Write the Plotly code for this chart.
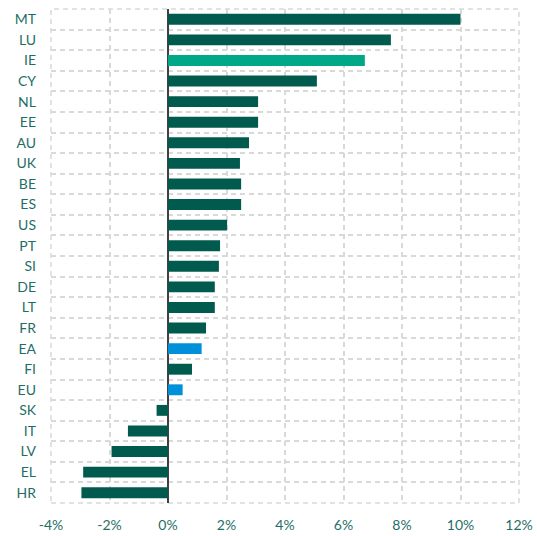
import plotly.graph_objects as go

countries = ["MT", "LU", "IE", "CY", "NL", "EE", "AU", "UK", "BE", "ES", "US", "PT",
             "SI", "DE", "LT", "FR", "EA", "FI", "EU", "SK", "IT", "LV", "EL", "HR"]
values = [10.0, 7.62, 6.73, 5.09, 3.08, 3.08, 2.77, 2.46, 2.5, 2.5, 2.02, 1.78,
          1.74, 1.6, 1.6, 1.3, 1.15, 0.82, 0.5, -0.39, -1.37, -1.93, -2.9, -2.96]
x_ticks = [-4, -2, 0, 2, 4, 6, 8, 10, 12]
x_ticktext = ["-4%", "-2%", "0%", "2%", "4%", "6%", "8%", "10%", "12%"]

DARK = "#005A4E"
colors = []
for c in countries:
    if c == "IE":
        colors.append("#00A887")
    elif c in ("EA", "EU"):
        colors.append("#0090D9")
    else:
        colors.append(DARK)

fig = go.Figure(go.Bar(
    x=values, y=countries, orientation="h",
    marker=dict(color=colors, line=dict(width=0)),
))

TXT = "#1F6E66"
GRID = "#D9D9D9"
DASH = "5px,4px"
fig.update_layout(
    width=537, height=536,
    margin=dict(l=51, r=18, t=9, b=33),
    paper_bgcolor="white", plot_bgcolor="white",
    bargap=0.47,
    showlegend=False,
    font=dict(family="Lato, Open Sans, sans-serif", size=14, color=TXT),
    xaxis=dict(
        range=[-4, 12], tickvals=x_ticks, ticktext=x_ticktext,
        showgrid=True, gridcolor=GRID, gridwidth=1.5, griddash=DASH,
        zeroline=True, zerolinecolor="#404040", zerolinewidth=2,
        showline=False, ticks="", ticklabelstandoff=12, automargin=False,
        tickfont=dict(size=14, color=TXT),
    ),
    yaxis=dict(
        type="category", autorange="reversed",
        tickson="boundaries", automargin=False,
        showgrid=True, gridcolor=GRID, gridwidth=1.5, griddash=DASH,
        showline=False, ticks="", ticklabelstandoff=14,
        tickfont=dict(size=14, color=TXT),
    ),
    shapes=[dict(
        type="rect", xref="x domain", yref="y domain",
        x0=0, x1=1, y0=0, y1=1,
        line=dict(color=GRID, width=1.5, dash=DASH),
        layer="below",
    )],
)

fig.write_html("out.html", config={"displayModeBar": False},
               post_script="document.body.style.margin='0';")
